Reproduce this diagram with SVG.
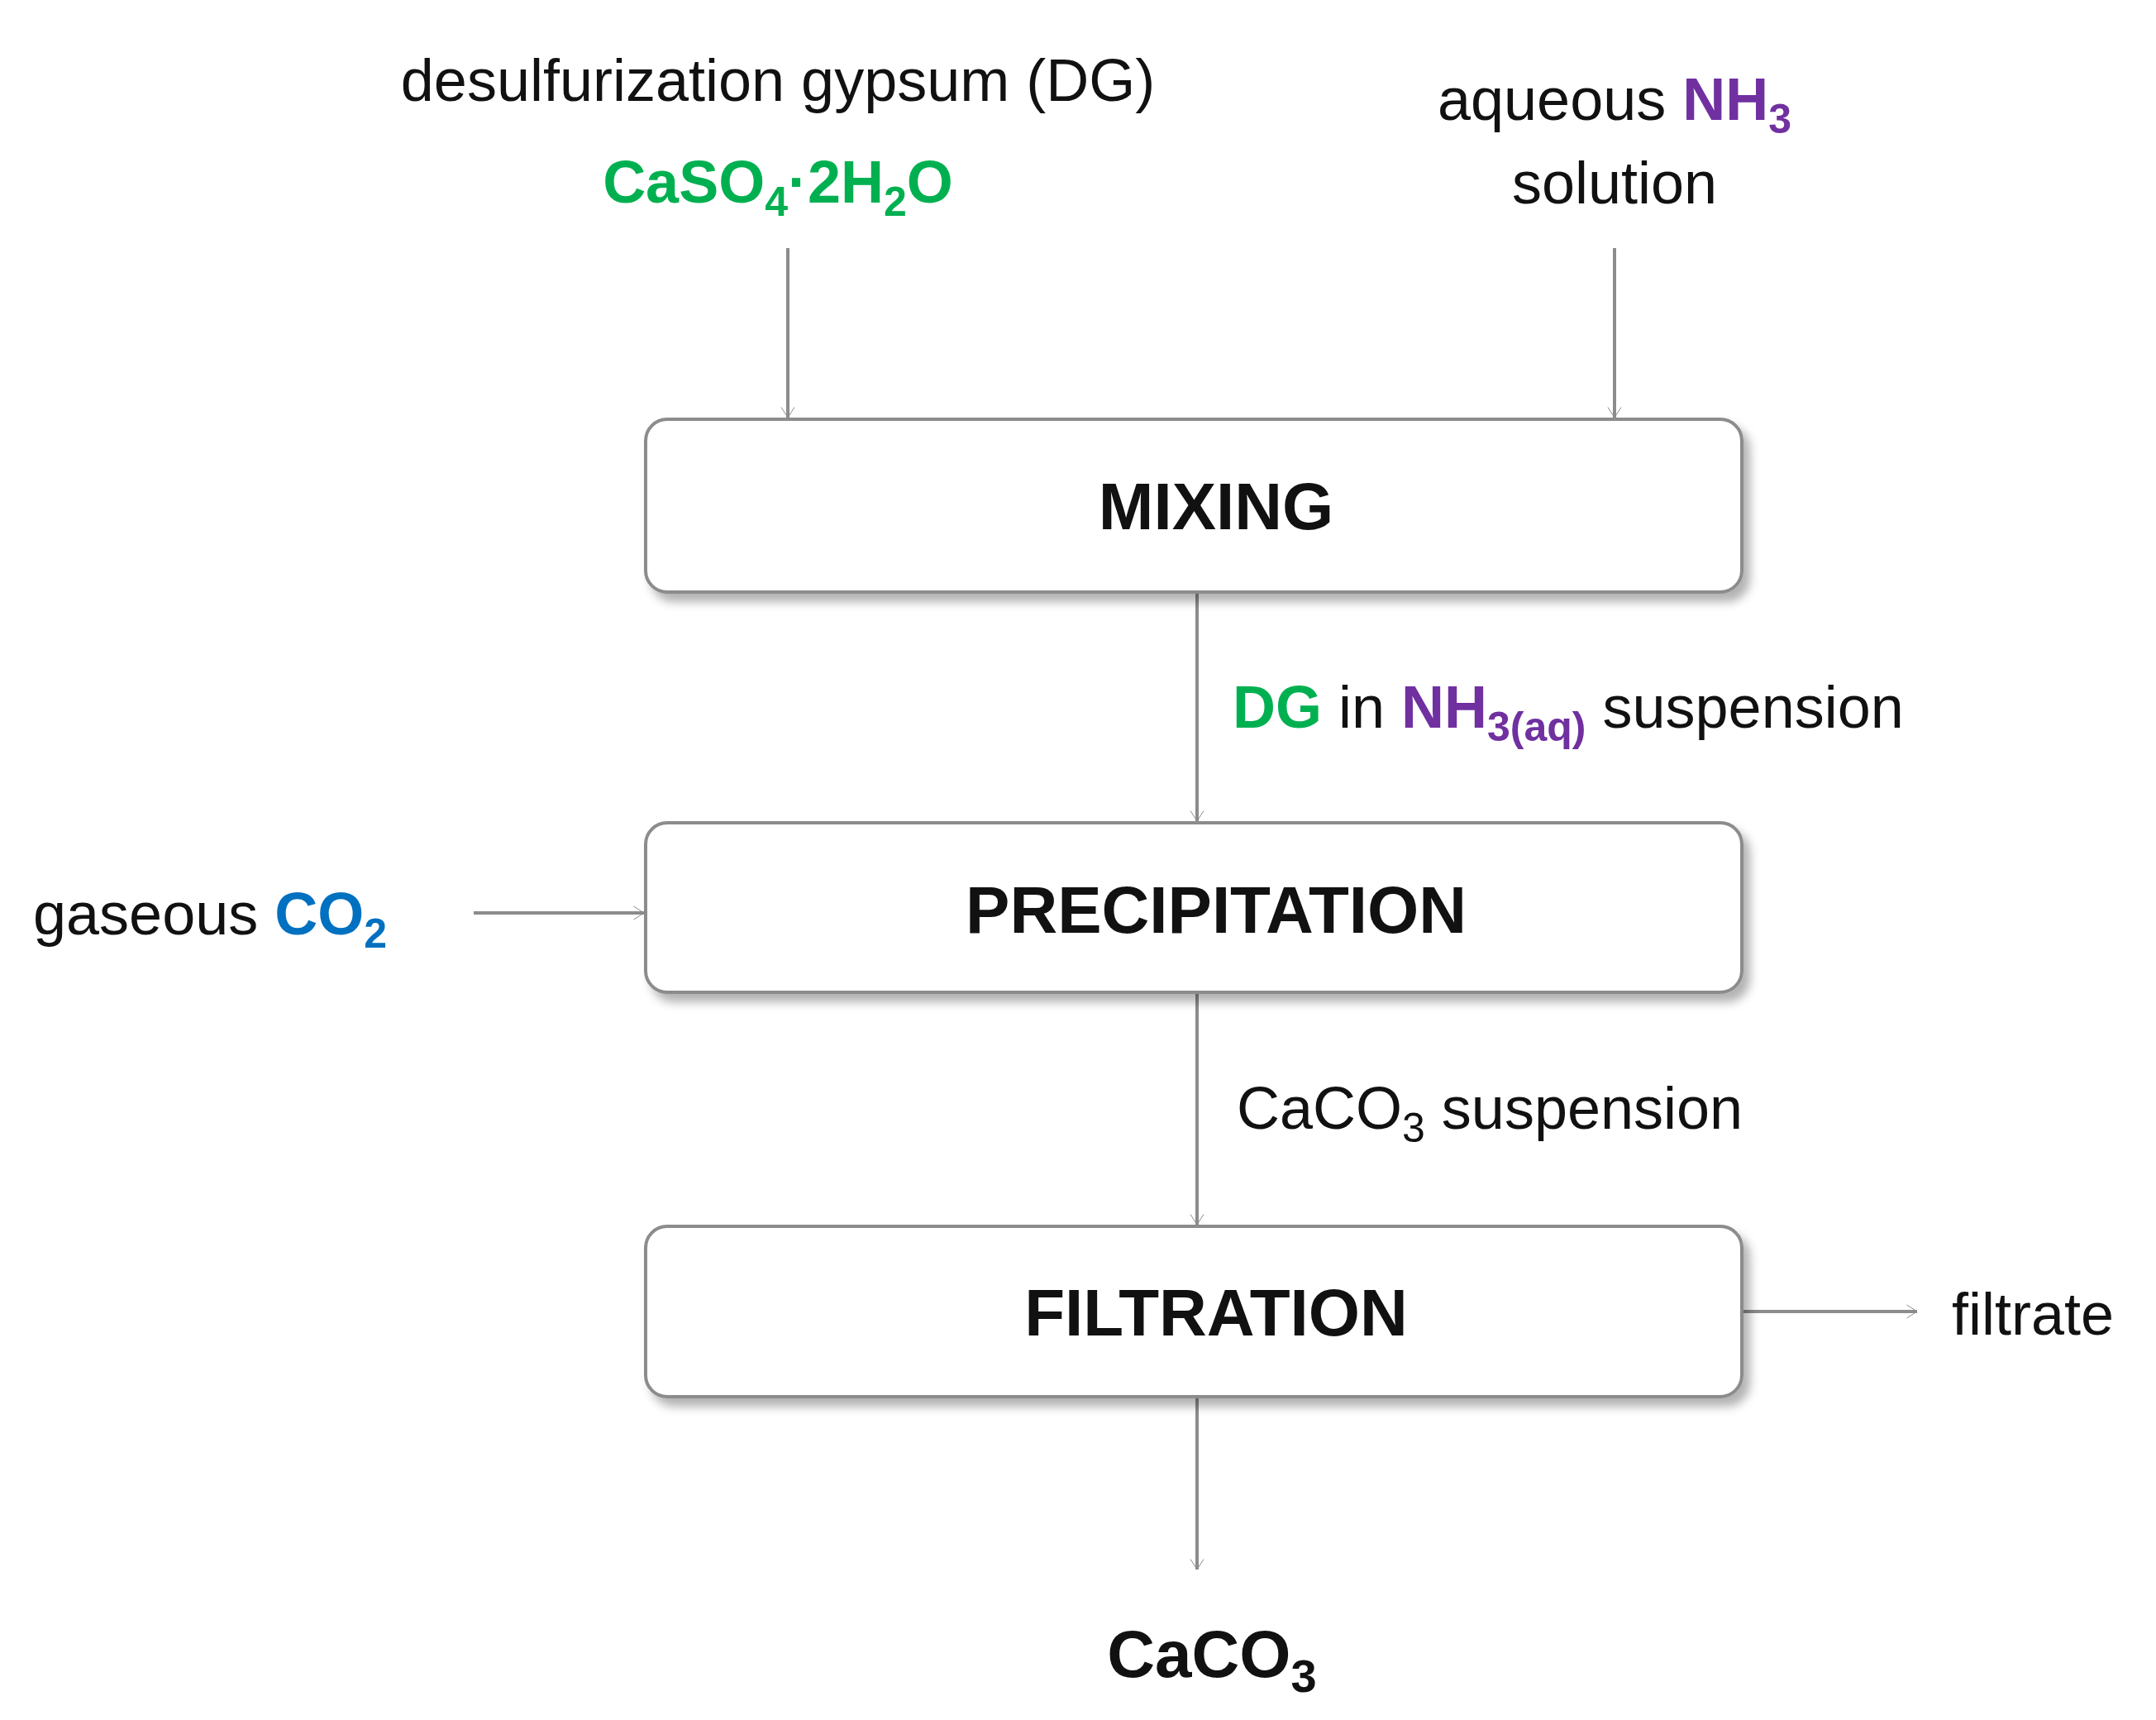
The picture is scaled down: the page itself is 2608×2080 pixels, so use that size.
<svg xmlns="http://www.w3.org/2000/svg" width="2608" height="2080" viewBox="0 0 2608 2080">
<style>
text{font-family:"Liberation Sans",Arial,sans-serif;font-size:72px;fill:#111}
.b{font-weight:bold}
.box{fill:#fff;stroke:#8c8c8c;stroke-width:4}
.t{font-size:80px;font-weight:bold;text-anchor:middle}
.g{fill:#00b050}.p{fill:#7030a0}.c{fill:#0070c0}
.con{stroke:#8c8c8c;stroke-width:4;fill:none}
</style>
<defs>
<marker id="ah" viewBox="0 0 20 20" refX="19" refY="10" markerWidth="10" markerHeight="10" markerUnits="userSpaceOnUse" orient="auto" overflow="visible">
<path d="M-6,-6 L19,10 L-6,26" fill="none" stroke="#8c8c8c" stroke-width="2"/>
</marker>
<filter id="sh" x="-5%" y="-10%" width="112%" height="130%"><feDropShadow dx="8" dy="10" stdDeviation="6" flood-color="#000" flood-opacity="0.3"/></filter>
</defs>
<g id="connectors" class="con">
<line x1="953" y1="300" x2="953" y2="505" marker-end="url(#ah)"/>
<line x1="1953" y1="300" x2="1953" y2="505" marker-end="url(#ah)"/>
<line x1="1448" y1="716" x2="1448" y2="993" marker-end="url(#ah)"/>
<line x1="573" y1="1104" x2="779" y2="1104" marker-end="url(#ah)"/>
<line x1="1448" y1="1200" x2="1448" y2="1481" marker-end="url(#ah)"/>
<line x1="2109" y1="1586" x2="2319" y2="1586" marker-end="url(#ah)"/>
<line x1="1448" y1="1689" x2="1448" y2="1898" marker-end="url(#ah)"/>
</g>
<g id="dg">
<text x="941" y="122" text-anchor="middle">desulfurization gypsum (DG)</text>
<text x="941" y="245" text-anchor="middle" class="b g">CaSO<tspan font-size="50" dy="16">4</tspan><tspan dy="-16">·2H</tspan><tspan font-size="50" dy="16">2</tspan><tspan dy="-16">O</tspan></text>
</g>
<g id="nh3">
<text x="1953" y="145" text-anchor="middle">aqueous <tspan class="b p">NH<tspan font-size="50" dy="16">3</tspan></tspan></text>
<text x="1953" y="246" text-anchor="middle">solution</text>
</g>
<g id="mixing"><rect class="box" filter="url(#sh)" x="781" y="507" width="1326" height="209" rx="26"/><text class="t" x="1471" y="640">MIXING</text></g>
<g id="lbl1"><text x="1491" y="880"><tspan class="b g">DG</tspan> in <tspan class="b p">NH<tspan font-size="50" dy="16">3(aq)</tspan></tspan><tspan dy="-16"> suspension</tspan></text></g>
<g id="co2"><text x="40" y="1130">gaseous <tspan class="b c">CO<tspan font-size="50" dy="16">2</tspan></tspan></text></g>
<g id="precipitation"><rect class="box" filter="url(#sh)" x="781" y="995" width="1326" height="205" rx="26"/><text class="t" x="1471" y="1128">PRECIPITATION</text></g>
<g id="lbl2"><text x="1496" y="1365">CaCO<tspan font-size="50" dy="16">3</tspan><tspan dy="-16"> suspension</tspan></text></g>
<g id="filtration"><rect class="box" filter="url(#sh)" x="781" y="1483" width="1326" height="206" rx="26"/><text class="t" x="1471" y="1615">FILTRATION</text></g>
<g id="filtrate"><text x="2361" y="1614">filtrate</text></g>
<g id="caco3"><text x="1466" y="2028" class="t">CaCO<tspan font-size="56" dy="18">3</tspan></text></g>
</svg>
